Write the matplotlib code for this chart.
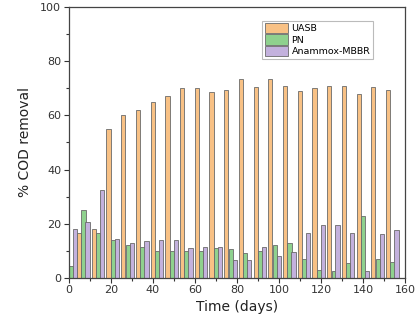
import matplotlib
matplotlib.use("Agg")
import matplotlib.pyplot as plt
import numpy as np
from matplotlib.ticker import MultipleLocator

# sampling days (group centre) and % COD removal per reactor
days = [1, 7, 14, 21, 28, 35, 42, 49, 56, 63, 70, 77, 84, 91, 98, 105, 112, 119, 126, 133, 140, 147, 154]
uasb = [0, 16.5, 18, 55, 60, 62, 65, 67, 70, 70, 68.5, 69.5, 73.5, 70.5, 73.5, 71, 69, 70, 71, 71, 68, 70.5, 69.5]
pn = [4.5, 25, 16.5, 14, 12, 11.5, 10, 10, 10, 10, 11, 10.5, 9, 10, 12, 13, 7, 3, 2.5, 5.5, 23, 7, 6]
anammox = [18, 20.5, 32.5, 14.5, 13, 13.5, 14, 14, 11, 11.5, 11.5, 6.5, 6.5, 11.5, 8, 9.5, 16.5, 19.5, 19.5, 16.5, 2.5, 16, 17.5]

x = np.array(days, dtype=float)
w = 2.0

fig = plt.figure(figsize=(4.15, 3.23), dpi=100)
ax = fig.add_axes([0.166, 0.14, 0.81, 0.838])

ec = "#6a6a6a"
ax.bar(x - 2.1, uasb, width=w, color="#F8C185", edgecolor=ec, linewidth=0.6, label="UASB")
ax.bar(x, pn, width=w, color="#8FD18E", edgecolor=ec, linewidth=0.6, label="PN")
ax.bar(x + 1.9, anammox, width=w, color="#C3B1DD", edgecolor=ec, linewidth=0.6, label="Anammox-MBBR")

ax.set_xlim(0, 160)
ax.set_ylim(0, 100)
ax.xaxis.set_major_locator(MultipleLocator(20))
ax.xaxis.set_minor_locator(MultipleLocator(10))
ax.yaxis.set_major_locator(MultipleLocator(20))
ax.yaxis.set_minor_locator(MultipleLocator(10))
ax.tick_params(which="major", length=3.5, width=0.8, labelsize=8, colors="#333333", pad=2)
ax.tick_params(which="minor", length=2, width=0.8, colors="#333333")
for s in ax.spines.values():
    s.set_color("#444444")
    s.set_linewidth(0.9)

ax.set_xlabel("Time (days)", fontsize=10, color="#222222", labelpad=3)
ax.set_ylabel("% COD removal", fontsize=10, color="#222222", labelpad=6)

leg = ax.legend(loc="upper left", bbox_to_anchor=(0.575, 0.95), fontsize=6.8,
                frameon=True, fancybox=False, handlelength=2.5, handleheight=1.3,
                borderpad=0.25, labelspacing=0.12, handletextpad=0.35, borderaxespad=0)
leg.get_frame().set_edgecolor("#aaaaaa")
leg.get_frame().set_linewidth(0.8)

fig.savefig("out.png", dpi=100)
